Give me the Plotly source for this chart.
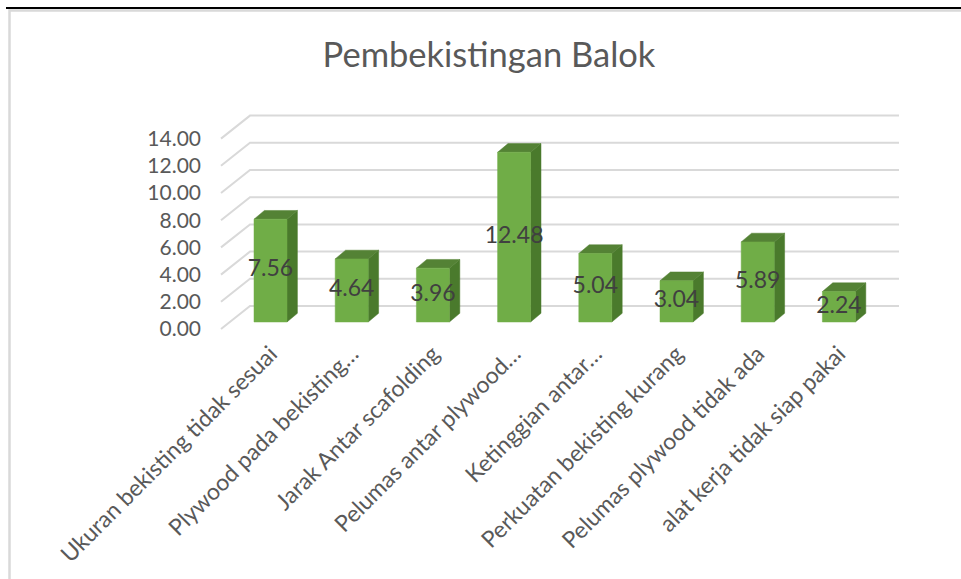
import plotly.graph_objects as go

# ---------------- data ----------------
categories = [
    "Ukuran bekisting tidak sesuai",
    "Plywood pada bekisting…",
    "Jarak Antar scafolding",
    "Pelumas antar plywood…",
    "Ketinggian antar…",
    "Perkuatan bekisting kurang",
    "Pelumas plywood tidak ada",
    "alat kerja tidak siap pakai",
]
values = [7.56, 4.64, 3.96, 12.48, 5.04, 3.04, 5.89, 2.24]
y_ticks = [0, 2, 4, 6, 8, 10, 12, 14]
title_text = "Pembekistingan Balok"

# ---------------- layout geometry (screen pixels) ----------------
W, H = 961, 579
ML, MR, MT, MB = 210, 50, 100, 244
PX_PER_CAT = 81.2
PX_PER_UNIT = 13.6
X0_PIX = 270.5          # first category (bar front plane)
Y0_PIX = 322.0          # value 0 (bar front plane)

plot_w = W - ML - MR
plot_h = H - MT - MB
x_lo = -(X0_PIX - ML) / PX_PER_CAT
x_hi = x_lo + plot_w / PX_PER_CAT
y_hi = (Y0_PIX - MT) / PX_PER_UNIT
y_lo = y_hi - plot_h / PX_PER_UNIT

# 3D projection offsets (in data units)
BAR_W = 33 / PX_PER_CAT
DEPTH_DX = 10.4 / PX_PER_CAT
DEPTH_DY = 8.7 / PX_PER_UNIT
BACK_DY = 16 / PX_PER_UNIT
BACK_X_LEFT = (250 - X0_PIX) / PX_PER_CAT
BACK_X_RIGHT = (899 - X0_PIX) / PX_PER_CAT
FRONT_X = (221 - X0_PIX) / PX_PER_CAT
FRONT_DY = -(329 - Y0_PIX) / PX_PER_UNIT

FRONT_COL = "#70AD47"
SIDE_COL = "#4A7A2C"
TOP_COL = "#548235"
GRID_COL = "#D9D9D9"
TEXT_COL = "#595959"
FONT = "Lato, 'Open Sans', sans-serif"

fig = go.Figure()

# gridlines (floor diagonal + back wall)
gx, gy = [], []
for t in y_ticks:
    gx += [FRONT_X, BACK_X_LEFT, BACK_X_RIGHT, None]
    gy += [t + FRONT_DY, t + BACK_DY, t + BACK_DY, None]
fig.add_trace(go.Scatter(x=gx, y=gy, mode="lines",
                         line=dict(color=GRID_COL, width=2),
                         hoverinfo="skip", showlegend=False))

# bars: front, side, top faces
fx, fy, sx, sy, tx, ty = [], [], [], [], [], []
for i, v in enumerate(values):
    l, r = i - BAR_W / 2, i + BAR_W / 2
    fx += [l, r, r, l, l, None]
    fy += [0, 0, v, v, 0, None]
    sx += [r, r + DEPTH_DX, r + DEPTH_DX, r, r, None]
    sy += [0, DEPTH_DY, v + DEPTH_DY, v, 0, None]
    tx += [l, r, r + DEPTH_DX, l + DEPTH_DX, l, None]
    ty += [v, v, v + DEPTH_DY, v + DEPTH_DY, v, None]

for xs, ys, col in [(sx, sy, SIDE_COL), (tx, ty, TOP_COL), (fx, fy, FRONT_COL)]:
    fig.add_trace(go.Scatter(x=xs, y=ys, mode="lines", fill="toself",
                             fillcolor=col, line=dict(color=col, width=0.5),
                             hoverinfo="skip", showlegend=False))

# data labels
fig.add_trace(go.Scatter(
    x=list(range(len(values))), y=[v / 2 for v in values],
    mode="text", text=[f"{v:.2f}" for v in values],
    textposition="middle center",
    textfont=dict(family=FONT, size=23, color="#404040"),
    hoverinfo="skip", showlegend=False))

# invisible trace for label axis
fig.add_trace(go.Scatter(x=[0], y=[0], yaxis="y2", mode="markers",
                         marker=dict(opacity=0), hoverinfo="skip", showlegend=False))

def px_to_paper_x(px):
    return (px - ML) / plot_w

def py_to_paper_y(py):
    return (H - MB - py) / plot_h

shapes = [
    dict(type="rect", xref="paper", yref="paper",
         x0=px_to_paper_x(9.5), x1=px_to_paper_x(W + 30),
         y0=py_to_paper_y(H + 40), y1=py_to_paper_y(10.5),
         line=dict(color="#D9D9D9", width=2.5), layer="below"),
    dict(type="line", xref="paper", yref="paper",
         x0=px_to_paper_x(6), x1=px_to_paper_x(W + 30),
         y0=py_to_paper_y(8), y1=py_to_paper_y(8),
         line=dict(color="#000000", width=2)),
]

fig.update_layout(
    width=W, height=H,
    margin=dict(l=ML, r=MR, t=MT, b=MB),
    paper_bgcolor="white", plot_bgcolor="white",
    font=dict(family=FONT, color=TEXT_COL),
    title=dict(text=title_text, x=489 / W, xanchor="center",
               y=1 - 55 / H, yanchor="middle",
               xref="container", yref="container",
               font=dict(family=FONT, size=34.5, color=TEXT_COL)),
    xaxis=dict(range=[x_lo, x_hi], tickmode="array",
               tickvals=list(range(len(categories))), ticktext=categories,
               tickangle=-45, showgrid=False, zeroline=False, showline=False,
               tickfont=dict(family=FONT, size=23, color=TEXT_COL),
               fixedrange=True),
    yaxis=dict(range=[y_lo, y_hi], showgrid=False, zeroline=False,
               showline=False, showticklabels=False, fixedrange=True),
    yaxis2=dict(range=[y_lo - FRONT_DY, y_hi - FRONT_DY], overlaying="y",
                side="left", tickmode="array", tickvals=y_ticks,
                ticktext=[f"{t:.2f}" for t in y_ticks],
                showgrid=False, zeroline=False, showline=False,
                ticklabelstandoff=8,
                tickfont=dict(family=FONT, size=21, color=TEXT_COL),
                fixedrange=True),
    shapes=shapes,
    showlegend=False,
)

fig.write_html(
    "out.html",
    config={"displayModeBar": False, "staticPlot": True},
    post_script="document.body.style.margin='0px';"
                "document.body.style.overflow='hidden';",
)
